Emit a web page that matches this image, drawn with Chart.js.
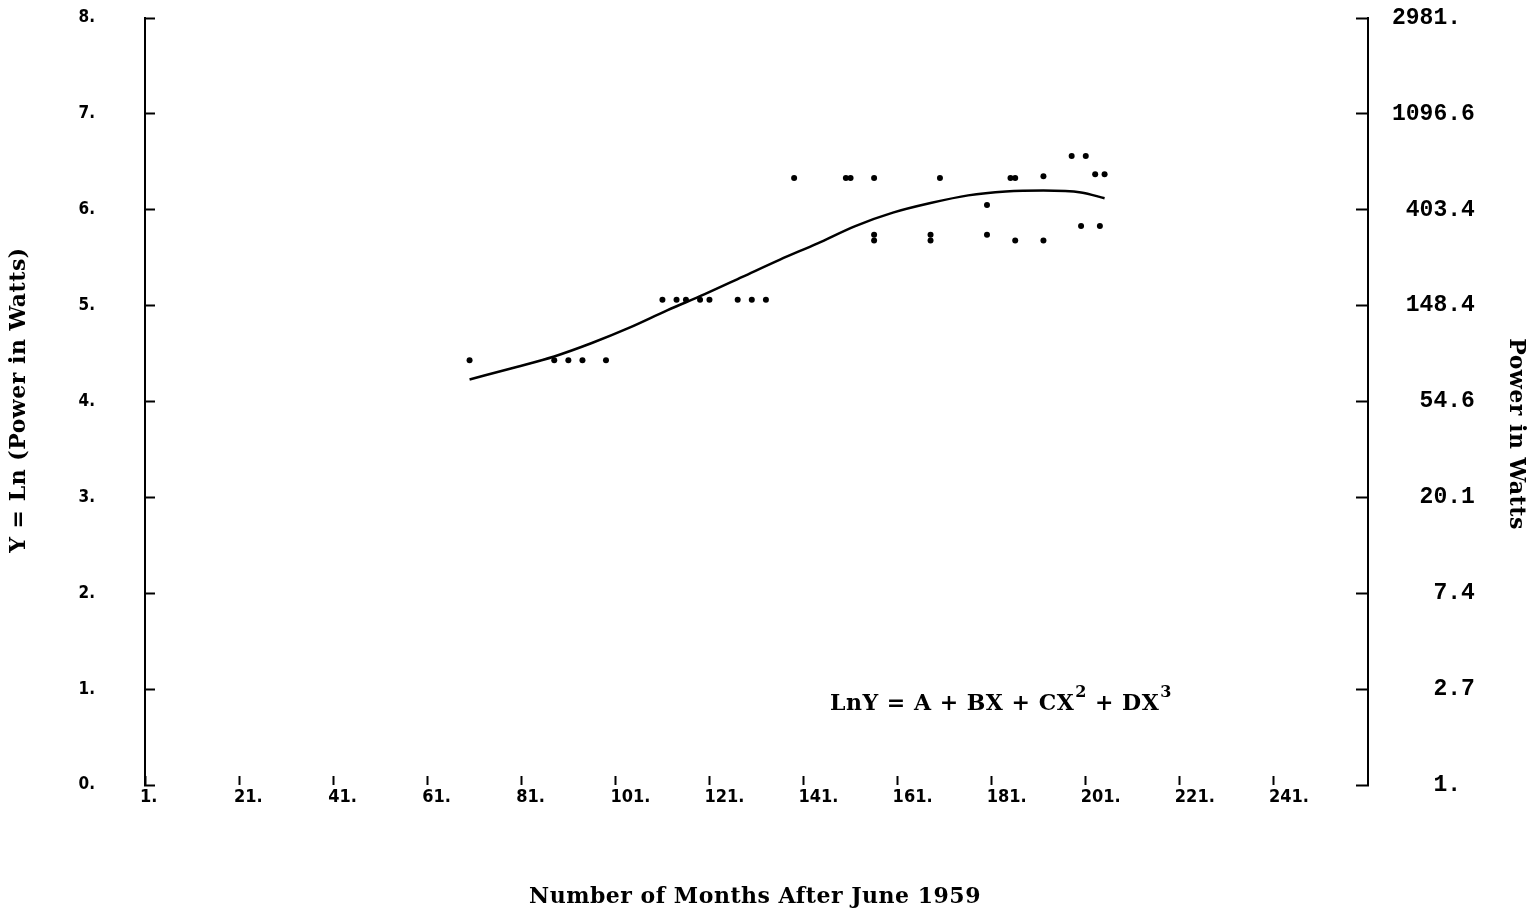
<!DOCTYPE html>
<html>
<head>
<meta charset="utf-8">
<script src="https://cdn.jsdelivr.net/npm/chart.js@4.4.1/dist/chart.umd.min.js"></script>
<style>
  html, body { margin: 0; padding: 0; background: #fff; }
</style>
</head>
<body>
<canvas id="grafico" width="1540" height="913"></canvas>
<script>
// observed points: month after June 1959, ln(power in watts)
var mesesPontos = [70, 88, 91, 94, 99,
  111, 114, 116, 119, 121, 127, 130, 133,
  139, 150, 151, 156, 156, 156, 168, 168, 170,
  180, 180, 185, 186, 186, 192, 192, 198, 200, 201, 203, 204, 205];
var lnPotencia = [4.43, 4.43, 4.43, 4.43, 4.43,
  5.06, 5.06, 5.06, 5.06, 5.06, 5.06, 5.06, 5.06,
  6.33, 6.33, 6.33, 6.33, 5.74, 5.68, 5.74, 5.68, 6.33,
  6.05, 5.74, 6.33, 6.33, 5.68, 6.35, 5.68, 6.56, 5.83, 6.56, 6.37, 5.83, 6.37];

// fitted cubic curve
var mesesAjuste = [70, 80, 88, 96, 104, 112, 120, 128, 136, 144, 152, 160, 168, 176, 184, 192, 200, 205];
var lnAjuste = [4.23, 4.36, 4.47, 4.61, 4.77, 4.95, 5.12, 5.30, 5.48, 5.65, 5.83, 5.97, 6.07, 6.15, 6.19, 6.20, 6.18, 6.12];

// axis tick labels
var ticksX = [1, 21, 41, 61, 81, 101, 121, 141, 161, 181, 201, 221, 241];
var ticksEsquerda = ['0.', '1.', '2.', '3.', '4.', '5.', '6.', '7.', '8.'];
var ticksDireita = ['   1. ', '   2.7', '   7.4', '  20.1', '  54.6', ' 148.4', ' 403.4', '1096.6', '2981. '];

var fonteImpressora = "'DejaVu Sans Condensed', 'DejaVu Sans Mono', sans-serif";
var fonteMaquina = "'Liberation Mono', monospace";
var fonteTitulo = "'DejaVu Serif', serif";

var textos = {
  id: 'textos',
  afterDraw: function(chart) {
    var c = chart.ctx;
    c.save();
    c.fillStyle = '#000';
    c.textBaseline = 'middle';
    c.textAlign = 'center';
    c.letterSpacing = '0.5px';
    c.font = 'bold 22px ' + fonteTitulo;
    c.fillText('Number of Months After June 1959', 755, 897);

    c.save();
    c.translate(19, 400);
    c.rotate(-Math.PI / 2);
    c.fillText('Y = Ln (Power in Watts)', 0, 0);
    c.restore();

    c.save();
    c.translate(1516, 434);
    c.rotate(Math.PI / 2);
    c.fillText('Power in Watts', 0, 0);
    c.restore();

    // equation with superscripts
    c.textAlign = 'left';
    c.textBaseline = 'alphabetic';
    var x = 830, y = 710;
    c.font = 'bold 22px ' + fonteTitulo;
    var parte1 = 'LnY = A + BX + CX';
    c.fillText(parte1, x, y);
    x += c.measureText(parte1).width + 1;
    c.font = 'bold 16px ' + fonteTitulo;
    c.fillText('2', x, y - 13);
    x += c.measureText('2').width;
    c.font = 'bold 22px ' + fonteTitulo;
    var parte2 = ' + DX';
    c.fillText(parte2, x, y);
    x += c.measureText(parte2).width + 1;
    c.font = 'bold 16px ' + fonteTitulo;
    c.fillText('3', x, y - 13);
    c.restore();
  }
};

var ctx = document.getElementById('grafico');

var chart = new Chart(ctx, {
  type: 'scatter',
  data: {
    datasets: [{
      type: 'line',
      data: mesesAjuste.map(function(m, i) { return { x: m, y: lnAjuste[i] }; }),
      borderColor: '#000',
      borderWidth: 2.5,
      pointRadius: 0,
      cubicInterpolationMode: 'monotone',
      fill: false,
      yAxisID: 'y'
    }, {
      type: 'scatter',
      data: mesesPontos.map(function(m, i) { return { x: m, y: lnPotencia[i] }; }),
      backgroundColor: '#000',
      borderColor: '#000',
      borderWidth: 0,
      pointRadius: 3,
      yAxisID: 'y'
    }]
  },
  options: {
    responsive: false,
    animation: false,
    layout: { padding: { top: 18, left: 0, right: 0, bottom: 0 } },
    plugins: { legend: { display: false }, tooltip: { enabled: false } },
    scales: {
      x: {
        type: 'linear',
        min: 1,
        max: 261,
        border: { display: false },
        grid: { drawOnChartArea: false, tickLength: -9, tickColor: '#000', tickWidth: 2 },
        ticks: {
          align: 'start',
          labelOffset: -5,
          padding: 11,
          color: '#000',
          font: { family: fonteImpressora, size: 18, weight: 'bold' },
          maxRotation: 0,
          autoSkip: false,
          callback: function(v) { return v + '.'; }
        },
        afterBuildTicks: function(s) { s.ticks = ticksX.map(function(v) { return { value: v }; }); },
        afterFit: function(s) { s.height = 128; s.paddingLeft = 0; s.paddingRight = 0; }
      },
      y: {
        position: 'left',
        min: 0,
        max: 8,
        border: { display: true, color: '#000', width: 2 },
        grid: { drawOnChartArea: false, tickLength: -10, tickColor: '#000', tickWidth: 2 },
        ticks: {
          stepSize: 1,
          padding: 60,
          color: '#000',
          font: { family: fonteImpressora, size: 17, weight: 'bold' },
          callback: function(v, i) { return ticksEsquerda[i]; }
        },
        afterFit: function(s) { s.width = 145; s.paddingTop = 0; s.paddingBottom = 0; }
      },
      y2: {
        position: 'right',
        min: 0,
        max: 8,
        border: { display: true, color: '#000', width: 2 },
        grid: { drawOnChartArea: false, tickLength: -12, tickColor: '#000', tickWidth: 2 },
        ticks: {
          stepSize: 1,
          padding: 36,
          color: '#000',
          font: { family: fonteMaquina, size: 23, weight: 'bold' },
          callback: function(v, i) { return ticksDireita[i]; }
        },
        afterFit: function(s) { s.width = 172; s.paddingTop = 0; s.paddingBottom = 0; }
      }
    }
  },
  plugins: [textos]
});
</script>
</body>
</html>
